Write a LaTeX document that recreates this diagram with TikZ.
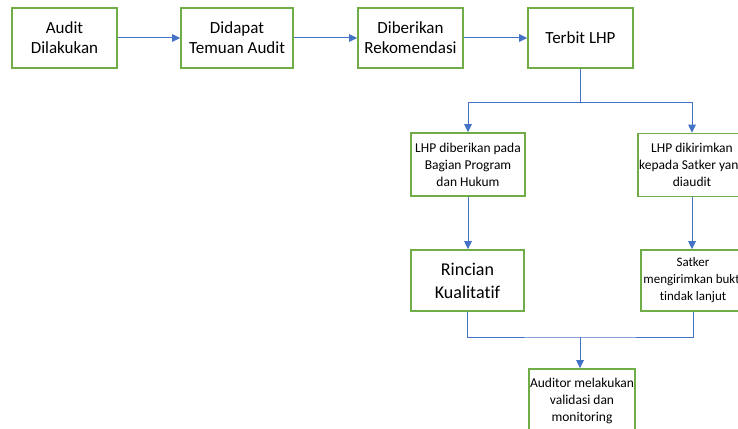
\documentclass[tikz,border=0pt]{standalone}
\usepackage{fontspec}
\setmainfont{Carlito}[Ligatures=NoCommon]
\usetikzlibrary{arrows.meta}
\definecolor{boxgreen}{HTML}{70AD47}
\definecolor{lineblue}{HTML}{4472C4}
\tikzset{
  bigbox/.style={draw=boxgreen, line width=1.6pt, inner sep=0pt, align=center,
    font=\fontsize{17}{20}\selectfont},
  smallbox/.style={draw=boxgreen, line width=1.6pt, inner sep=0pt, align=center,
    font=\fontsize{13.5}{17}\selectfont},
  conn/.style={draw=lineblue, line width=1pt},
  arr/.style={conn, -{Triangle[length=8pt,width=7.5pt]}},
}
\begin{document}
\begin{tikzpicture}[x=1pt,y=-1pt]
\useasboundingbox (0,0) rectangle (738,428);
\node[bigbox, minimum width=105pt, minimum height=60pt] (b1) at (64.5,38) {Audit\\Dilakukan};
\node[bigbox, minimum width=112pt, minimum height=60pt] (b2) at (237,38) {Didapat\\Temuan Audit};
\node[bigbox, minimum width=105pt, minimum height=60pt] (b3) at (410.5,38) {Diberikan\\Rekomendasi};
\node[bigbox, minimum width=105pt, minimum height=60pt] (b4) at (580.5,38) {Terbit LHP};
\node[smallbox, minimum width=114pt, minimum height=63pt] (b5) at (468,164.5) {LHP diberikan pada\\Bagian Program\\dan Hukum};
\node[smallbox, minimum width=108pt, minimum height=63pt] (b6) at (692,165) {LHP dikirimkan\\kepada Satker yang\\diaudit};
\node[bigbox, minimum width=113pt, minimum height=61pt, font=\fontsize{18}{23}\selectfont] (b7) at (467.5,280.5) {Rincian\\Kualitatif};
\node[smallbox, minimum width=104pt, minimum height=61pt, font=\fontsize{13}{17}\selectfont] (b8) at (693,280.5) {Satker\\mengirimkan bukti\\tindak lanjut};
\node[smallbox, minimum width=106pt, minimum height=63pt] (b9) at (582,400.5) {Auditor melakukan\\validasi dan\\monitoring};
\draw[arr] (b1) -- (b2);
\draw[arr] (b2) -- (b3);
\draw[arr] (b3) -- (b4);
\coordinate (j1) at (580.5,102);
\draw[conn] (b4.south) -- (j1);
\draw[arr] (j1) -| (b5.north);
\draw[arr] (j1) -| (b6.north);
\draw[arr] (b5.south) -- (b5.south |- b7.north);
\draw[arr] (b6.south) -- (b6.south |- b8.north);
\coordinate (j2) at (580,337);
\draw[conn] (b7.south) |- (j2) -| (b8.south);
\draw[arr] (j2) -- (j2 |- b9.north);
\end{tikzpicture}
\end{document}
